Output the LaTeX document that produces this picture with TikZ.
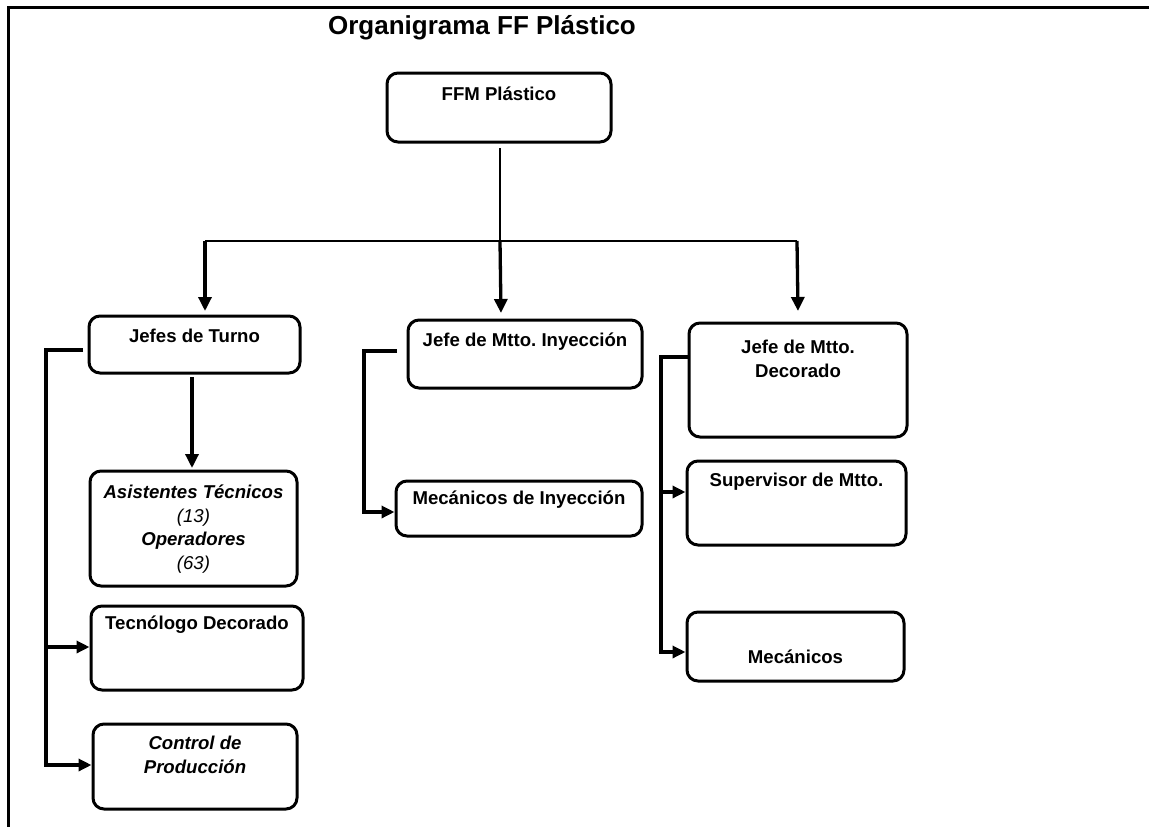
\documentclass[tikz,border=0pt]{standalone}
\usepackage{fontspec}
\setmainfont{Liberation Sans}
\usetikzlibrary{arrows.meta}
\frenchspacing
\begin{document}
\begin{tikzpicture}[x=1pt,y=-1pt,
  box/.style={draw, line width=3pt, rounded corners=11pt, inner sep=0pt},
  lbl/.style={font=\fontsize{18.6}{23.8}\selectfont\bfseries, align=center, inner sep=0pt},
  thinln/.style={line width=2pt},
  conn/.style={line width=3.3pt},
  arr/.style={line width=3.3pt, -{Triangle[length=14pt,width=13pt]}},
  side/.style={line width=3.3pt, -{Triangle[length=13pt,width=12pt]}}]
\useasboundingbox (0,0) rectangle (1149,827);
% frame
\coordinate (fbl) at (8.3,830);
\coordinate (ftl) at (8.3,7.5);
\coordinate (ftr) at (1152,7.5);
\draw[line width=3.6pt] (fbl) -- (ftl) -- (ftr);
% title
\node[font=\fontsize{26}{30}\selectfont\bfseries, inner sep=0pt] (title) at (482,28) {Organigrama FF Plástico};
% boxes
\node[box, minimum width=224pt, minimum height=69pt] (ffm) at (499,107.5) {};
\node[box, minimum width=211pt, minimum height=57pt] (jt) at (194.5,344.5) {};
\node[box, minimum width=234pt, minimum height=68pt] (ji) at (525,354) {};
\node[box, minimum width=218pt, minimum height=114pt] (jd) at (798,380) {};
\node[box, minimum width=207pt, minimum height=115pt] (at) at (193.5,528.5) {};
\node[box, minimum width=212pt, minimum height=84pt] (td) at (197,648) {};
\node[box, minimum width=204pt, minimum height=85pt] (cp) at (195,766.5) {};
\node[box, minimum width=246pt, minimum height=55pt] (mi) at (519,508.5) {};
\node[box, minimum width=219pt, minimum height=84pt] (sm) at (796.5,503) {};
\node[box, minimum width=217pt, minimum height=69pt] (me) at (795.5,646.5) {};
% labels
\node[lbl] (ffmt) at (499,94) {FFM Plástico};
\node[lbl] (jtt) at (194.5,336) {Jefes de Turno};
\node[lbl] (jit) at (525,342) {Jefe de Mtto. Inyección};
\node[lbl] (jdt) at (798,358.5) {Jefe de Mtto.\\Decorado};
\node[lbl] (att) at (193.5,529) {\itshape Asistentes Técnicos\\{\mdseries\itshape (13)}\\\itshape Operadores\\{\mdseries\itshape (63)}};
\node[lbl] (tdt) at (197,625) {Tecnólogo Decorado};
\node[lbl] (cpt) at (195,755) {\itshape Control de\\\itshape Producción};
\node[lbl] (mit) at (519,500) {Mecánicos de Inyección};
\node[lbl] (smt) at (796.5,482) {Supervisor de Mtto.};
\node[lbl] (met) at (795.5,657) {Mecánicos};
% top tree
\coordinate (stemtop) at (500,148);
\coordinate (stembot) at (500,241);
\coordinate (barl) at (205,241);
\coordinate (barr) at (797,241);
\draw[thinln] (stemtop) -- (stembot);
\draw[thinln] (barl) -- (barr);
\coordinate (tipl) at (205,311);
\coordinate (tipm) at (501,313);
\coordinate (tipr) at (798,311);
\draw[arr] (barl) -- (tipl);
\draw[arr] (stembot) -- (tipm);
\draw[arr] (barr) -- (tipr);
% Jefes de Turno -> Asistentes
\coordinate (jtd) at (192,377);
\coordinate (jtdt) at (192,468);
\draw[arr] (jtd) -- (jtdt);
% left branch
\coordinate (l1) at (83,350);
\coordinate (l2) at (46,350);
\coordinate (l3) at (46,765);
\coordinate (l4) at (46,647);
\draw[conn] (l1) -- (l2) -- (l3);
\draw[side] ([xshift=-1.6pt]l4) -- (td.west |- l4);
\draw[side] ([xshift=-1.6pt]l3) -- (cp.west |- l3);
% middle branch
\coordinate (m1) at (397,351);
\coordinate (m2) at (364,351);
\coordinate (m3) at (364,512);
\draw[conn] (m1) -- (m2) -- (m3);
\draw[side] ([xshift=-1.6pt]m3) -- (mi.west |- m3);
% right branch
\coordinate (r1) at (jd.west |- 0,357);
\coordinate (r2) at (661,357);
\coordinate (r3) at (661,652);
\coordinate (r4) at (661,492);
\draw[conn] (r1) -- (r2) -- (r3);
\draw[side] ([xshift=-1.6pt]r4) -- (sm.west |- r4);
\draw[side] ([xshift=-1.6pt]r3) -- (me.west |- r3);
\end{tikzpicture}
\end{document}
